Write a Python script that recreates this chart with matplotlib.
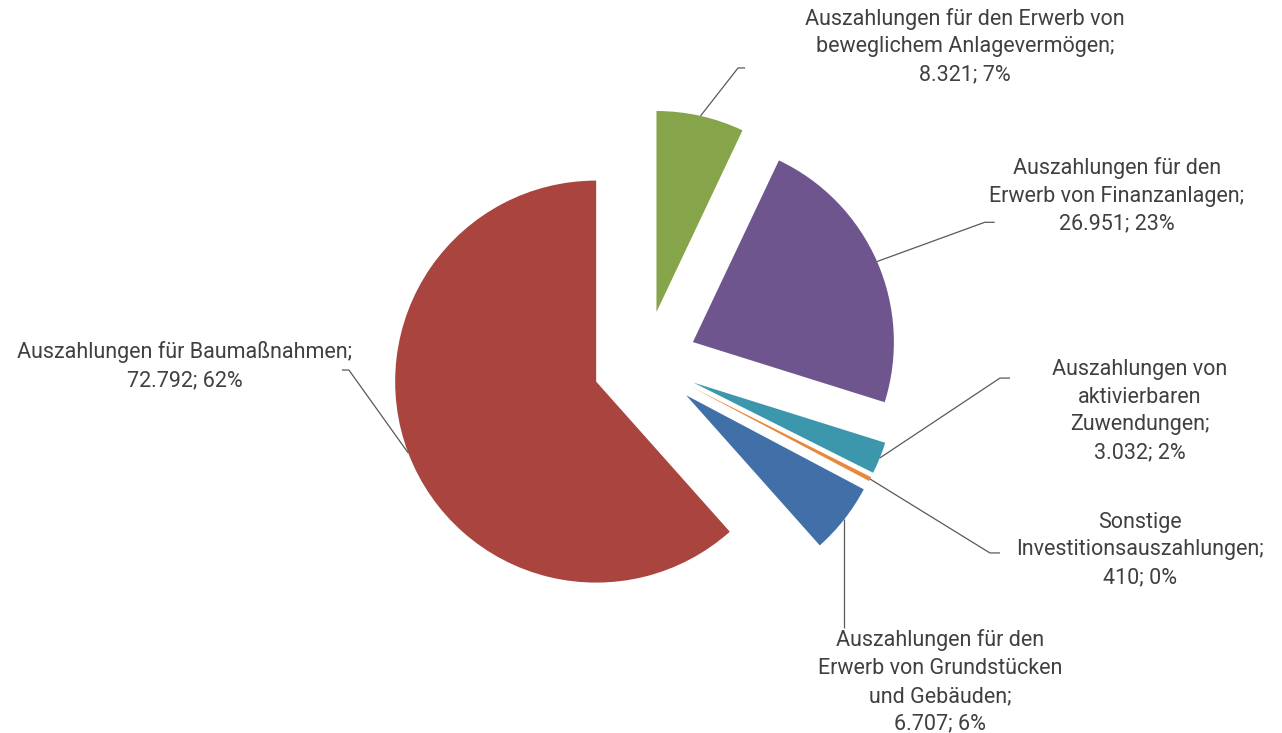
import numpy as np
import matplotlib.pyplot as plt

plt.rcParams['font.family'] = ['Roboto', 'DejaVu Sans']

# ---- Daten ----
labels = [
    "Auszahlungen für den Erwerb von\nbeweglichem Anlagevermögen;",
    "Auszahlungen für den\nErwerb von Finanzanlagen;",
    "Auszahlungen von\naktivierbaren\nZuwendungen;",
    "Sonstige\nInvestitionsauszahlungen;",
    "Auszahlungen für den\nErwerb von Grundstücken\nund Gebäuden;",
    "Auszahlungen für Baumaßnahmen;",
]
values = [8321, 26951, 3032, 410, 6707, 72792]
value_text = ["8.321", "26.951", "3.032", "410", "6.707", "72.792"]
pct_text = ["7%", "23%", "2%", "0%", "6%", "62%"]
colors = ["#86A44A", "#6E558E", "#3C97AD", "#E8883A", "#4170A8", "#A9443F"]

# Textposition (Datenkoordinaten, Radius = 1) und Knickpunkt der Führungslinie
text_pos = [(1.592, 1.575), (2.348, 0.831), (2.463, -0.239), (2.463, -0.930),
            (1.468, -1.587), (-2.289, -0.015)]
elbow_pts = [(0.463, 1.468), (1.69, 0.70), (1.766, -0.075), (1.716, -0.945),
             (None, -1.318), (-1.473, -0.035)]
hook = [0.035, 0.05, 0.05, 0.05, 0.0, -0.035]

fig = plt.figure(figsize=(12.82, 7.33), dpi=100)
ax = fig.add_axes([0, 0, 1, 1])

wedges, _ = ax.pie(values, colors=colors, startangle=90, counterclock=False,
                   explode=[0.26] * len(values), radius=1.0,
                   wedgeprops=dict(linewidth=0))

for w, lab, vt, pt, tp, el, hk in zip(wedges, labels, value_text, pct_text,
                                      text_pos, elbow_pts, hook):
    ang = np.deg2rad((w.theta1 + w.theta2) / 2)
    cx, cy = w.center
    x0 = cx + w.r * np.cos(ang)
    y0 = cy + w.r * np.sin(ang)
    ex = x0 if el[0] is None else el[0]
    ax.plot([x0, ex, ex + hk], [y0, el[1], el[1]],
            color="#595959", lw=0.9, solid_capstyle="butt")
    ax.text(tp[0], tp[1], f"{lab}\n{vt}; {pt}", ha="center", va="center",
            fontsize=15.5, color="#404040", linespacing=1.42)

px = 201.0
ax.set_xlim(-645 / px, (1282 - 645) / px)
ax.set_ylim(-(733 - 363) / px, 363 / px)
ax.set_aspect("auto")
ax.axis("off")

fig.savefig("out.png", dpi=100)
